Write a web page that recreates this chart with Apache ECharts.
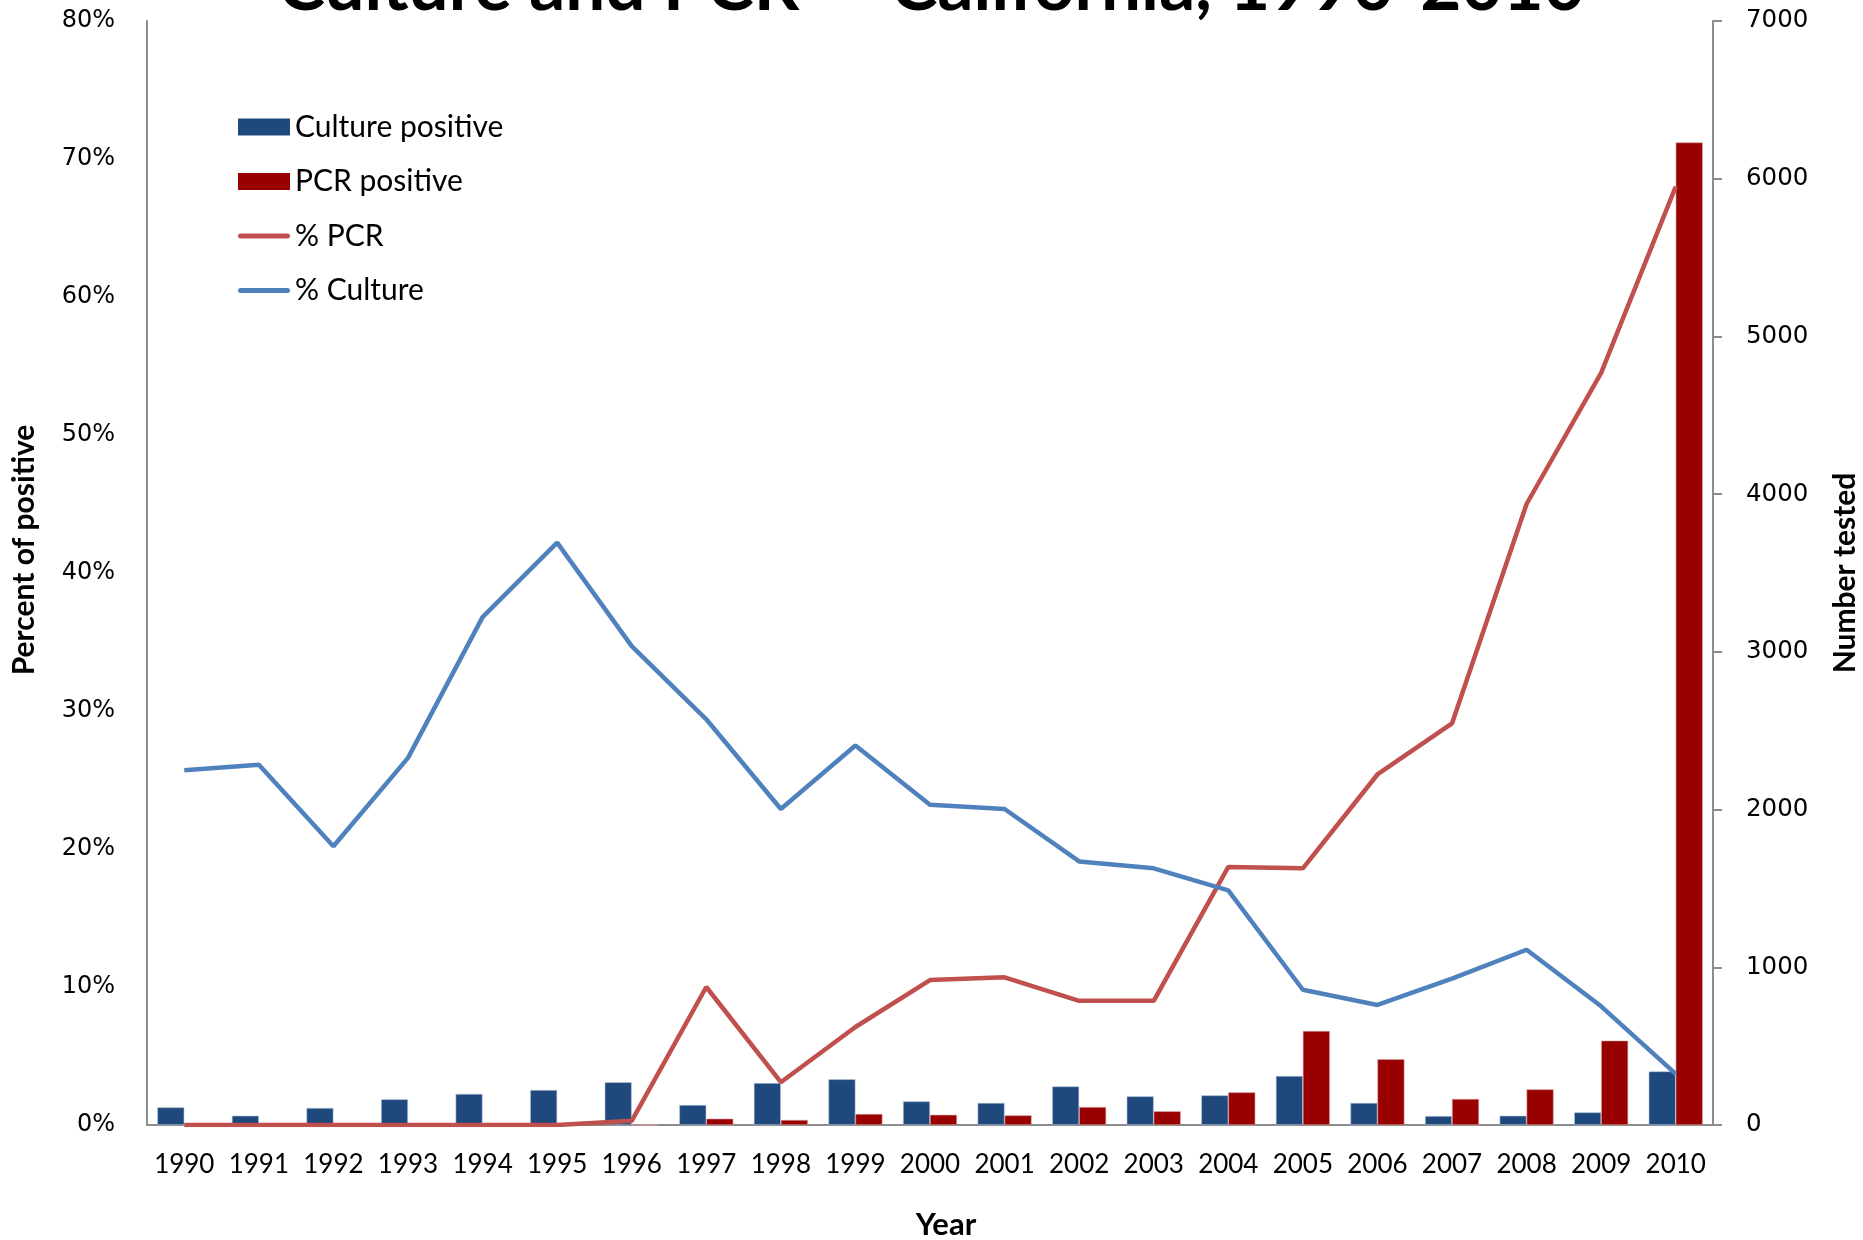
<!DOCTYPE html>
<html><head><meta charset="utf-8">
<script src="https://cdn.jsdelivr.net/npm/echarts@6/dist/echarts.min.js"></script>
<style>html,body{margin:0;padding:0;background:#fff}#c{width:1863px;height:1240px}</style>
</head><body><div id="c"></div>
<script>
const years = ['1990','1991','1992','1993','1994','1995','1996','1997','1998','1999','2000','2001','2002','2003','2004','2005','2006','2007','2008','2009','2010'];
const culturePositive = [112,59,108,163,197,222,271,127,266,290,150,140,245,182,188,311,140,57,59,80,340];
const pcrPositive = [0,0,0,0,0,0,0,40,32,70,65,61,114,87,207,596,417,165,226,535,6230];
const pctPCR = [0,0,0,0,0,0,0.3,10.0,3.1,7.1,10.5,10.7,9.0,9.0,18.7,18.6,25.4,29.1,45.0,54.5,68.0];
const pctCulture = [25.7,26.1,20.2,26.6,36.8,42.2,34.7,29.4,22.9,27.5,23.2,22.9,19.1,18.6,17.0,9.8,8.7,10.6,12.7,8.6,3.7];

const chart = echarts.init(document.getElementById('c'), null, {renderer: 'canvas'});
const axisGray = '#8c8c8c';
const lineIcon = 'path://M0,0 M52,17 M2.5,6 L49.5,6 A2.5,2.5 0 0 1 49.5,11 L2.5,11 A2.5,2.5 0 0 1 2.5,6 Z';
chart.setOption({
  backgroundColor: '#fff',
  animation: false,
  title: {
    text: 'Culture and PCR \u2014 California, 1990-2010',
    left: 'center',
    top: -53,
    textStyle: {fontFamily: 'Lato', fontWeight: 'bold', fontSize: 71, color: '#000'}
  },
  grid: {left: 147, right: 150, top: 21, bottom: 115, containLabel: false, outerBoundsMode: 'none'},
  legend: {
    orient: 'vertical',
    left: 233,
    top: 107,
    itemWidth: 52,
    itemHeight: 17,
    itemGap: 24.5,
    itemStyle: {borderWidth: 0},
    textStyle: {fontFamily: 'Lato', fontSize: 30, color: '#000'},
    data: [
      {name: 'Culture positive', icon: 'rect'},
      {name: 'PCR positive', icon: 'rect'},
      {name: '% PCR', icon: lineIcon},
      {name: '% Culture', icon: lineIcon}
    ]
  },
  xAxis: {
    type: 'category',
    data: years,
    boundaryGap: true,
    name: 'Year',
    nameLocation: 'middle',
    nameGap: 84,
    nameTextStyle: {fontFamily: 'Lato', fontWeight: 'bold', fontSize: 31, color: '#000', padding: [0, 0, 0, 32]},
    axisLine: {lineStyle: {color: axisGray, width: 2}},
    axisTick: {show: false},
    axisLabel: {fontFamily: 'Lato', fontSize: 26, color: '#000', margin: 27, interval: 0}
  },
  yAxis: [
    {
      type: 'value',
      min: 0, max: 80, interval: 10,
      position: 'left',
      name: 'Percent of positive',
      nameLocation: 'middle',
      nameGap: 108,
      nameRotate: 90,
      nameTextStyle: {fontFamily: 'Lato', fontWeight: 'bold', fontSize: 30, color: '#000', padding: [0, 0, 0, 46]},
      axisLine: {show: true, lineStyle: {color: axisGray, width: 2}},
      axisTick: {show: false},
      splitLine: {show: false},
      axisLabel: {formatter: '{value}%', fontFamily: 'DejaVu Sans', fontSize: 24, color: '#000', margin: 32}
    },
    {
      type: 'value',
      min: 0, max: 7000, interval: 1000,
      position: 'right',
      name: 'Number tested',
      nameLocation: 'middle',
      nameGap: 117,
      nameRotate: 90,
      nameTextStyle: {fontFamily: 'Lato', fontWeight: 'bold', fontSize: 30, color: '#000'},
      axisLine: {show: true, lineStyle: {color: axisGray, width: 2}},
      axisTick: {show: true, length: 9, inside: false, lineStyle: {color: axisGray, width: 2}},
      splitLine: {show: false},
      axisLabel: {formatter: function (v) { return String(v); }, fontFamily: 'DejaVu Sans', fontSize: 24.5, color: '#000', margin: 33}
    }
  ],
  series: [
    {
      name: 'Culture positive', type: 'bar', yAxisIndex: 1, data: culturePositive,
      barWidth: 27, barGap: '0%',
      itemStyle: {color: '#1F497D', borderColor: '#b8c7dc', borderWidth: 0.6}, z: 2
    },
    {
      name: 'PCR positive', type: 'bar', yAxisIndex: 1, data: pcrPositive,
      barWidth: 27, barGap: '0%',
      itemStyle: {color: '#990000', borderColor: '#d9a0a0', borderWidth: 0.6}, z: 2
    },
    {
      name: '% PCR', type: 'line', yAxisIndex: 0, data: pctPCR,
      symbol: 'none', lineStyle: {color: '#C0504D', width: 4.5}, itemStyle: {color: '#C0504D'}, z: 5
    },
    {
      name: '% Culture', type: 'line', yAxisIndex: 0, data: pctCulture,
      symbol: 'none', lineStyle: {color: '#4F81BD', width: 4.5}, itemStyle: {color: '#4F81BD'}, z: 5
    }
  ]
});
</script></body></html>
